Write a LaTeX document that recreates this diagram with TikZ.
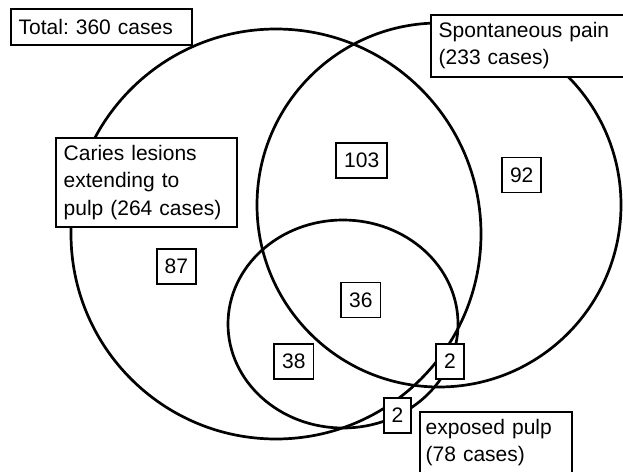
\documentclass[tikz,border=0pt]{standalone}
\usepackage{fontspec}
\setmainfont{Liberation Sans}
\frenchspacing
\begin{document}
\begin{tikzpicture}[x=1pt, y=-1pt,
    venn/.style={line width=2.7pt},
    tag/.style={draw, fill=white, line width=1.8pt, align=left, anchor=north west,
        inner xsep=8pt, font=\fontsize{21}{27.5}\selectfont},
    num/.style={draw, fill=white, line width=1.8pt, inner xsep=8pt,
        minimum height=35pt, font=\fontsize{21}{27.5}\selectfont}]
    \useasboundingbox (0,0) rectangle (623,471);

    % Sets
    \draw[venn] (276,234) circle (205pt);
    \draw[venn] (439,205) circle (182pt);
    \draw[venn] (343,324) ellipse [x radius=115pt, y radius=104pt];

    % Set labels
    \node[tag, text width=165pt, minimum height=36pt] (total) at (9.8,7.8) {Total: 360 cases};
    \node[tag, text width=165pt, minimum height=89pt] (caries) at (54.8,136.8)
        {Caries lesions\\extending to\\pulp (264 cases)};
    \node[tag, text width=200pt, minimum height=62pt] (pain) at (429.8,13.8)
        {Spontaneous pain\\(233 cases)};
    \node[tag, text width=140pt, inner xsep=6pt, minimum height=62pt] (pulp) at (418.8,410.8)
        {exposed pulp\\(78 cases)};

    % Counts
    \node[num] (n87) at (176.3,266.7) {87};
    \node[num] (n103) at (361.7,160.7) {103};
    \node[num] (n92) at (521.7,175) {92};
    \node[num] (n36) at (360.8,300) {36};
    \node[num] (n38) at (293.8,361.7) {38};
    \node[num] (n2a) at (450,361.3) {2};
    \node[num] (n2b) at (397.5,415.5) {2};
\end{tikzpicture}
\end{document}
